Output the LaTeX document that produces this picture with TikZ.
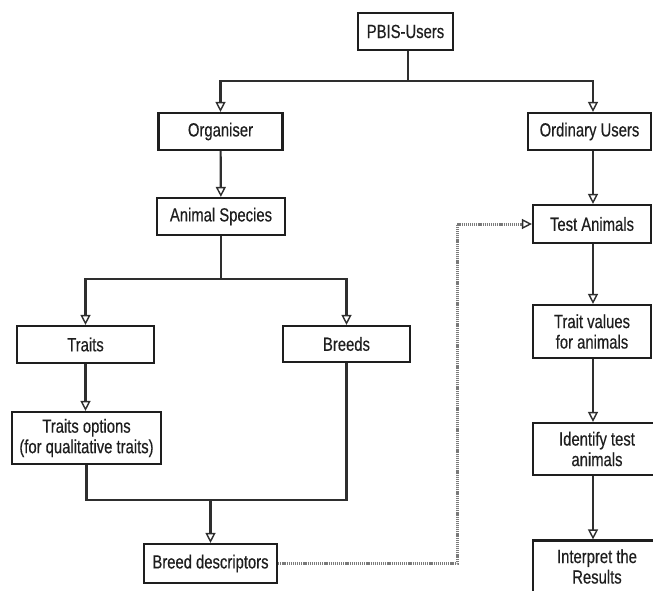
\documentclass[tikz,border=0pt]{standalone}
\usepackage{fontspec}
\setmainfont{Liberation Sans}[FakeStretch=0.78,FakeBold=0.4]
\usetikzlibrary{arrows.meta}
\definecolor{ln}{HTML}{2E2E2E}
\definecolor{tx}{HTML}{1E1E1E}
\definecolor{dt}{HTML}{7A7A7A}
\tikzset{
  box/.style={draw=tx, line width=2.2pt, fill=white, text=tx, align=center, inner sep=0pt,
    font=\fontsize{19}{20.5}\selectfont},
  conn/.style={draw=ln, line width=2.2pt},
  arr/.style={conn, -{Triangle[length=10pt,width=10pt,fill=white,line width=1.4pt]}},
  dotln/.style={draw=dt, line width=3pt, dash pattern=on 1.2pt off 0.9pt,
    -{Triangle[length=10pt,width=10pt,fill=white,line width=1.4pt,color=ln]}}
}
\begin{document}
\begin{tikzpicture}[x=1pt,y=-1pt]
\useasboundingbox (0,0) rectangle (653,591);
% nodes
\node[box, minimum width=95pt, minimum height=37pt] (pbis) at (405.5,31.5) {PBIS-Users};
\node[box, minimum width=124pt, minimum height=37pt] (org) at (220.5,131.5) {Organiser};
\node[box, minimum width=123pt, minimum height=37pt] (ord) at (589.5,131.5) {Ordinary Users};
\node[box, minimum width=128pt, minimum height=37pt] (species) at (221,216.5) {Animal Species};
\node[box, minimum width=118pt, minimum height=38pt] (test) at (592,224) {Test Animals};
\node[box, minimum width=137pt, minimum height=37pt] (traits) at (85.5,344.5) {Traits};
\node[box, minimum width=127pt, minimum height=36pt] (breeds) at (346.5,344) {Breeds};
\node[box, minimum width=118pt, minimum height=53pt] (tvals) at (592,331.5) {Trait values\\for animals};
\node[box, minimum width=149pt, minimum height=52pt] (topts) at (86.5,438) {Traits options\\(for qualitative traits)};
\node[box, minimum width=128pt, minimum height=52pt] (ident) at (597,449) {Identify test\\animals};
\node[box, minimum width=128pt, minimum height=52pt] (interp) at (597,566.5) {Interpret the\\Results};
\node[box, minimum width=133pt, minimum height=39pt] (bdesc) at (210.5,563.5) {Breed descriptors};
% helper coordinates
\coordinate (b1) at (0,81);
\coordinate (b2) at (0,279);
\coordinate (b3) at (0,500);
\coordinate (rc) at (593,0);
\coordinate (pc) at (408,0);
\coordinate (dx) at (457,0);
% connectors
\draw[conn] (pbis.south -| pc) -- (b1 -| pc);
\draw[arr] (b1 -| pc) -| (org.north);
\draw[arr] (b1 -| pc) -| (ord.north -| rc);
\draw[arr] (org) -- (species);
\draw[conn] (species) -- (species |- b2);
\draw[arr] (species |- b2) -| (traits.north);
\draw[arr] (species |- b2) -| (breeds.north);
\draw[arr] (traits) -- (traits |- topts.north);
\draw[conn] (topts.south) -- (topts |- b3) -- (breeds |- b3) -- (breeds.south);
\draw[arr] (bdesc |- b3) -- (bdesc.north);
\draw[arr] (ord.south -| rc) -- (test.north -| rc);
\draw[arr] (test.south -| rc) -- (tvals.north -| rc);
\draw[arr] (tvals.south -| rc) -- (ident.north -| rc);
\draw[arr] (ident.south -| rc) -- (interp.north -| rc);
\draw[dotln] (bdesc.east) -- (bdesc.east -| dx) |- (test.west);
\end{tikzpicture}
\end{document}
